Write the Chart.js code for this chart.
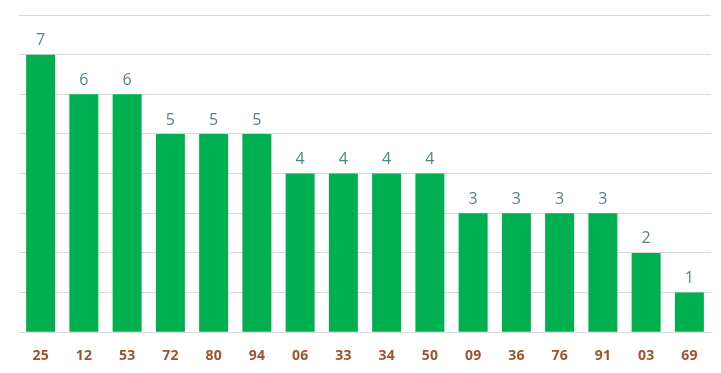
<!DOCTYPE html>
<html>
<head>
<meta charset="utf-8">
<script src="https://cdn.jsdelivr.net/npm/chart.js@4"></script>
<style>
  html, body { margin: 0; padding: 0; background: #fff; }
  #wrap { width: 721px; height: 373px; }
</style>
</head>
<body>
<div id="wrap"><canvas id="chart" width="721" height="373"></canvas></div>
<script>
const labels = ["25","12","53","72","80","94","06","33","34","50","09","36","76","91","03","69"];
const counts = [7,6,6,5,5,5,4,4,4,4,3,3,3,3,2,1];

// etiqueta de valor encima de cada barra
const valueLabels = {
  id: "valueLabels",
  afterDatasetsDraw(chart) {
    const {ctx} = chart;
    const meta = chart.getDatasetMeta(0);
    ctx.save();
    ctx.font = "16px 'Open Sans'";
    ctx.fillStyle = "#5b7f8f";
    ctx.textAlign = "center";
    ctx.textBaseline = "bottom";
    meta.data.forEach((bar, i) => {
      ctx.fillText(String(counts[i]), bar.x, bar.y - 6);
    });
    ctx.restore();
  }
};

new Chart(document.getElementById("chart"), {
  type: "bar",
  data: {
    labels,
    datasets: [{
      data: counts,
      backgroundColor: "#00b050",
      barPercentage: 0.67,
      categoryPercentage: 1
    }]
  },
  options: {
    responsive: false,
    animation: false,
    layout: {padding: {left: 19, right: 10, top: 15, bottom: -6}},
    plugins: {legend: {display: false}, tooltip: {enabled: false}},
    scales: {
      x: {
        grid: {display: false, drawTicks: false},
        border: {display: false},
        ticks: {
          color: "#a0522d",
          font: {family: "'Open Sans'", size: 14, weight: "bold"},
          padding: 15,
          maxRotation: 0
        }
      },
      y: {
        min: 0, max: 8,
        ticks: {display: false, stepSize: 1},
        border: {display: false},
        grid: {color: "#d9d9d9", drawTicks: false}
      }
    }
  },
  plugins: [valueLabels]
});
</script>
</body>
</html>
